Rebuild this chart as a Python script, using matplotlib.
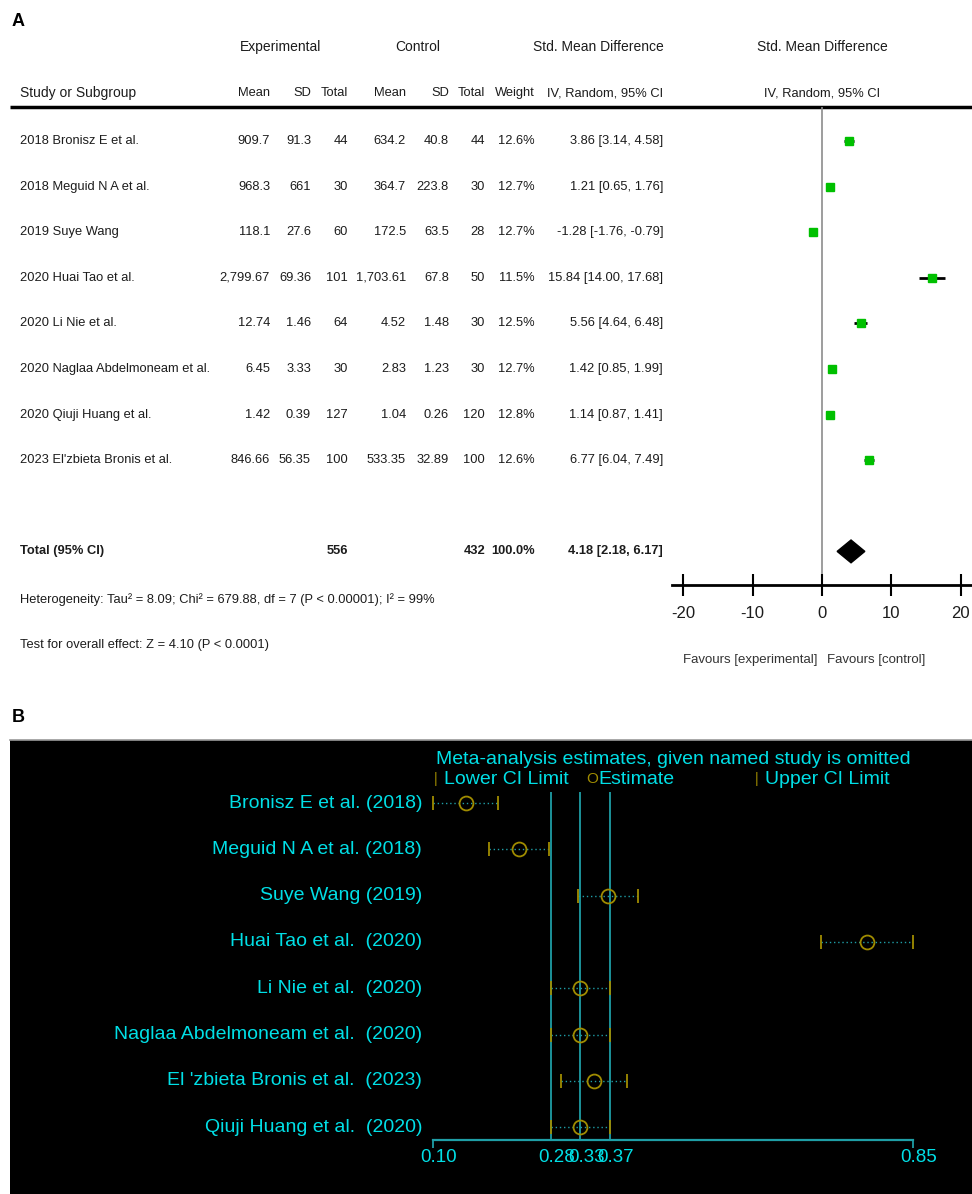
import matplotlib
matplotlib.use("Agg")
import matplotlib.pyplot as plt
from matplotlib.patches import Polygon

# ---- Panel A data (forest plot) ----
studies_a = ["2018 Bronisz E et al.", "2018 Meguid N A et al.", "2019 Suye Wang",
             "2020 Huai Tao et al.", "2020 Li Nie et al.", "2020 Naglaa Abdelmoneam et al.",
             "2020 Qiuji Huang et al.", "2023 El'zbieta Bronis et al."]
mean_e = ["909.7", "968.3", "118.1", "2,799.67", "12.74", "6.45", "1.42", "846.66"]
sd_e = ["91.3", "661", "27.6", "69.36", "1.46", "3.33", "0.39", "56.35"]
n_e = [44, 30, 60, 101, 64, 30, 127, 100]
mean_c = ["634.2", "364.7", "172.5", "1,703.61", "4.52", "2.83", "1.04", "533.35"]
sd_c = ["40.8", "223.8", "63.5", "67.8", "1.48", "1.23", "0.26", "32.89"]
n_c = [44, 30, 28, 50, 30, 30, 120, 100]
weight = [12.6, 12.7, 12.7, 11.5, 12.5, 12.7, 12.8, 12.6]
smd = [3.86, 1.21, -1.28, 15.84, 5.56, 1.42, 1.14, 6.77]
smd_lo = [3.14, 0.65, -1.76, 14.00, 4.64, 0.85, 0.87, 6.04]
smd_hi = [4.58, 1.76, -0.79, 17.68, 6.48, 1.99, 1.41, 7.49]
total_n_e, total_n_c = 556, 432
total_smd, total_lo, total_hi = 4.18, 2.18, 6.17
forest_ticks = [-20, -10, 0, 10, 20]

# ---- Panel B data (leave-one-out sensitivity) ----
studies_b = ["Bronisz E et al. (2018)", "Meguid N A et al. (2018)", "Suye Wang (2019)",
             "Huai Tao et al.  (2020)", "Li Nie et al.  (2020)",
             "Naglaa Abdelmoneam et al.  (2020)", "El 'zbieta Bronis et al.  (2023)",
             "Qiuji Huang et al.  (2020)"]
loo_est = [0.152, 0.235, 0.373, 0.778, 0.330, 0.330, 0.351, 0.330]
loo_lo = [0.100, 0.188, 0.326, 0.706, 0.284, 0.284, 0.300, 0.284]
loo_hi = [0.202, 0.281, 0.420, 0.850, 0.376, 0.376, 0.403, 0.376]
ref_vals = [0.284, 0.330, 0.376]
b_ticks = [0.10, 0.284, 0.330, 0.376, 0.85]
b_ticklabels = ["0.10", "0.28", "0.33", "0.37", "0.85"]

W, H = 972, 1194
ARIAL = ["Liberation Sans", "DejaVu Sans"]
TXT = "#1c1c1c"


def px_rect(x0, y0, x1, y1):
    return [x0 / W, 1 - y1 / H, (x1 - x0) / W, (y1 - y0) / H]


# row r of panel A sits at 141 + 45.6*r pixels
def r_a(ypx):
    return (ypx - 141) / 45.6


fig = plt.figure(figsize=(W / 100, H / 100), dpi=100)
fig.patch.set_facecolor("white")

# ---------- Panel A: table ----------
tab = fig.add_axes(px_rect(0, 0, W, 690))
tab.set_xlim(0, W)
tab.set_ylim(r_a(690), r_a(0))
tab.axis("off")

fs = 9.3
kw = dict(family=ARIAL, color=TXT, fontsize=fs, va="center")
hdr1 = r_a(47)
hdr2 = r_a(93)
kwh = dict(kw, fontsize=10)
tab.text(281, hdr1, "Experimental", ha="center", **kwh)
tab.text(418, hdr1, "Control", ha="center", **kwh)
tab.text(598, hdr1, "Std. Mean Difference", ha="center", **kwh)
tab.text(822, hdr1, "Std. Mean Difference", ha="center", **kwh)
tab.text(20, hdr2, "Study or Subgroup", ha="left", **kwh)
cols_x = [270, 311, 348, 406, 449, 485, 535, 663]
for x, lab in zip(cols_x, ["Mean", "SD", "Total", "Mean", "SD", "Total", "Weight",
                           "IV, Random, 95% CI"]):
    tab.text(x, hdr2, lab, ha="right", **kw)
tab.text(822, hdr2, "IV, Random, 95% CI", ha="center", **kw)
tab.plot([10, W], [r_a(107), r_a(107)], color="black", lw=2.5, solid_capstyle="butt")

for i, name in enumerate(studies_a):
    tab.text(20, i, name, ha="left", **kw)
    vals = [mean_e[i], sd_e[i], str(n_e[i]), mean_c[i], sd_c[i], str(n_c[i]),
            f"{weight[i]:.1f}%",
            f"{smd[i]:.2f} [{smd_lo[i]:.2f}, {smd_hi[i]:.2f}]"]
    for x, v in zip(cols_x, vals):
        tab.text(x, i, v, ha="right", **kw)

tot_row = 9
kwb = dict(kw, fontweight="bold")
tab.text(20, tot_row, "Total (95% CI)", ha="left", **kwb)
tab.text(cols_x[2], tot_row, str(total_n_e), ha="right", **kwb)
tab.text(cols_x[5], tot_row, str(total_n_c), ha="right", **kwb)
tab.text(cols_x[6], tot_row, "100.0%", ha="right", **kwb)
tab.text(cols_x[7], tot_row, f"{total_smd:.2f} [{total_lo:.2f}, {total_hi:.2f}]",
         ha="right", **kwb)
tab.text(20, r_a(600),
         "Heterogeneity: Tau² = 8.09; Chi² = 679.88, df = 7 (P < 0.00001); I² = 99%",
         ha="left", **kw)
tab.text(20, r_a(645), "Test for overall effect: Z = 4.10 (P < 0.0001)", ha="left", **kw)

# ---------- Panel A: forest ----------
fa = fig.add_axes(px_rect(672, 107, W, 585))
fa.set_xlim(-21.6, 21.6)
fa.set_ylim(r_a(585), r_a(107))
fa.patch.set_alpha(0)
for s in ["top", "left", "right"]:
    fa.spines[s].set_visible(False)
fa.spines["bottom"].set_linewidth(2)
fa.set_yticks([])
fa.set_xticks(forest_ticks)
fa.set_xticklabels([str(t) for t in forest_ticks], family=ARIAL, fontsize=12, color=TXT)
fa.tick_params(axis="x", direction="inout", length=16, width=1.5, pad=7)
fa.axvline(0, color="#8c8c8c", lw=1.2, zorder=1)

rows = list(range(len(studies_a)))
fa.hlines(rows, smd_lo, smd_hi, color="black", lw=2, zorder=2)
fa.plot(smd, rows, "s", color="#00c000", ms=5.5, mec="#00c000", zorder=3)
dh = 0.25
fa.add_patch(Polygon([(total_lo, tot_row), (total_smd, tot_row - dh),
                      (total_hi, tot_row), (total_smd, tot_row + dh)],
                     closed=True, color="black", zorder=3))
fa.text(-0.7, r_a(660), "Favours [experimental]", ha="right", va="center",
        family=ARIAL, fontsize=9.5, color="#333333", clip_on=False)
fa.text(0.7, r_a(660), "Favours [control]", ha="left", va="center",
        family=ARIAL, fontsize=9.5, color="#333333", clip_on=False)

fig.text(12 / W, 1 - 22 / H, "A", fontsize=13, fontweight="bold", family=ARIAL,
         va="center", ha="left")
fig.text(12 / W, 1 - 718 / H, "B", fontsize=13, fontweight="bold", family=ARIAL,
         va="center", ha="left")

# ---------- Panel B ----------
CYAN = "#00dfe6"
TEAL = "#1f9ea6"
OLIVE = "#a08c00"
fsb = 14


def r_b(ypx):
    return (ypx - 803) / 46.3


def x_b(xpx):
    return 0.10 + (xpx - 433) / 640


fb = fig.add_axes(px_rect(10, 740, W, H))
fb.set_facecolor("black")
fb.set_xlim(x_b(10), x_b(W))
fb.set_ylim(r_b(H), r_b(740))
fb.set_xticks([])
fb.set_yticks([])
for s in ["left", "right", "bottom"]:
    fb.spines[s].set_visible(False)
fb.spines["top"].set_color("#9a9a9a")
fb.spines["top"].set_linewidth(1.2)

y_axis = r_b(1140)
fb.vlines(ref_vals, r_b(792), y_axis, color=TEAL, lw=1.3)
fb.plot([b_ticks[0], b_ticks[-1]], [y_axis, y_axis], color=TEAL, lw=1.6)
fb.vlines([b_ticks[0], b_ticks[-1]], y_axis, r_b(1148), color=TEAL, lw=1.3)
for t, lab in zip(b_ticks, b_ticklabels):
    fb.text(t + x_b(439) - x_b(433), r_b(1158), lab, ha="center", va="center",
            color=CYAN, fontsize=13.5, family=ARIAL)

rows_b = list(range(len(studies_b)))
fb.hlines(rows_b, loo_lo, loo_hi, color=TEAL, lw=1, linestyles=(0, (1, 2)))
fb.plot(loo_lo, rows_b, "|", color=OLIVE, ms=10, mew=1.3)
fb.plot(loo_hi, rows_b, "|", color=OLIVE, ms=10, mew=1.3)
fb.plot(loo_est, rows_b, "o", mfc="none", mec=OLIVE, ms=10, mew=1.3)
for i, name in enumerate(studies_b):
    fb.text(x_b(422), i, name, ha="right", va="center", color=CYAN, fontsize=fsb,
            family=ARIAL)

fb.text(x_b(673), r_b(760), "Meta-analysis estimates, given named study is omitted",
        ha="center", va="center", color=CYAN, fontsize=fsb, family=ARIAL)
leg_y = r_b(779)
fb.text(x_b(436), leg_y, "|", ha="center", va="center", color=OLIVE, fontsize=10, family=ARIAL)
fb.text(x_b(444), leg_y, "Lower CI Limit", ha="left", va="center", color=CYAN, fontsize=fsb, family=ARIAL)
fb.text(x_b(586), leg_y, "O", ha="left", va="center", color=OLIVE, fontsize=11, family=ARIAL)
fb.text(x_b(598), leg_y, "Estimate", ha="left", va="center", color=CYAN, fontsize=fsb, family=ARIAL)
fb.text(x_b(757), leg_y, "|", ha="center", va="center", color=OLIVE, fontsize=10, family=ARIAL)
fb.text(x_b(765), leg_y, "Upper CI Limit", ha="left", va="center", color=CYAN, fontsize=fsb, family=ARIAL)

fig.savefig("out.png", dpi=100, facecolor="white")
